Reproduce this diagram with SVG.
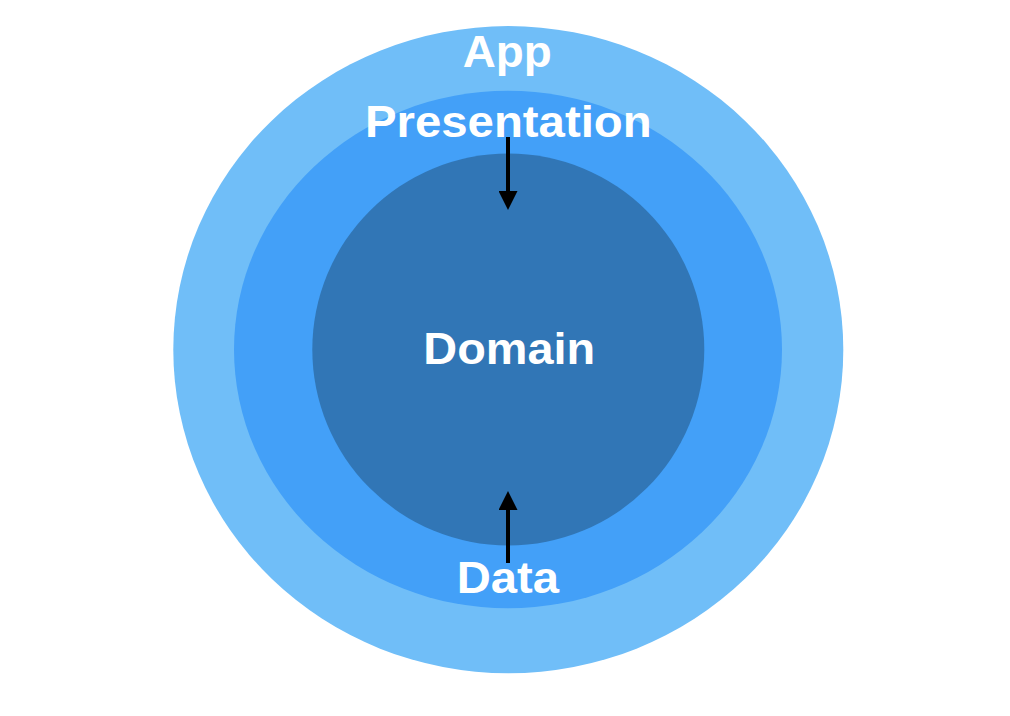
<svg xmlns="http://www.w3.org/2000/svg" width="1010" height="716" viewBox="0 0 1010 716">
<style>
.lbl{font-family:"Liberation Sans",Arial,Helvetica,sans-serif;font-weight:bold;font-size:44px;fill:#ffffff;text-anchor:middle}
.conn{stroke:#000000;stroke-width:4;fill:none}
</style>
<defs>
<marker id="ah" viewBox="0 0 10 10" refX="0" refY="5" markerWidth="4.75" markerHeight="4.75" markerUnits="strokeWidth" orient="auto">
<path d="M0,0 L10,5 L0,10 Z" fill="#000000"/>
</marker>
</defs>
<rect width="1010" height="716" fill="#ffffff"/>
<g id="app">
<ellipse cx="508.3" cy="349.7" rx="335" ry="323.6" fill="#70BEF8"/>
<text class="lbl" x="507.2" y="66.7" textLength="89" lengthAdjust="spacingAndGlyphs">App</text>
</g>
<g id="presentation">
<ellipse cx="508" cy="349.5" rx="274" ry="258.8" fill="#43A0F8"/>
<text class="lbl" x="508.3" y="136.7" textLength="286.7" lengthAdjust="spacingAndGlyphs">Presentation</text>
</g>
<g id="domain">
<circle cx="508.3" cy="349.5" r="196" fill="#3176B6"/>
<text class="lbl" x="509.2" y="364.3" textLength="171.7" lengthAdjust="spacingAndGlyphs">Domain</text>
</g>
<g id="data">
<text class="lbl" x="507.9" y="593.3" textLength="102.3" lengthAdjust="spacingAndGlyphs">Data</text>
</g>
<g id="connectors">
<line class="conn" x1="508" y1="137" x2="508" y2="191" marker-end="url(#ah)"/>
<line class="conn" x1="508" y1="563" x2="508" y2="510" marker-end="url(#ah)"/>
</g>
</svg>
